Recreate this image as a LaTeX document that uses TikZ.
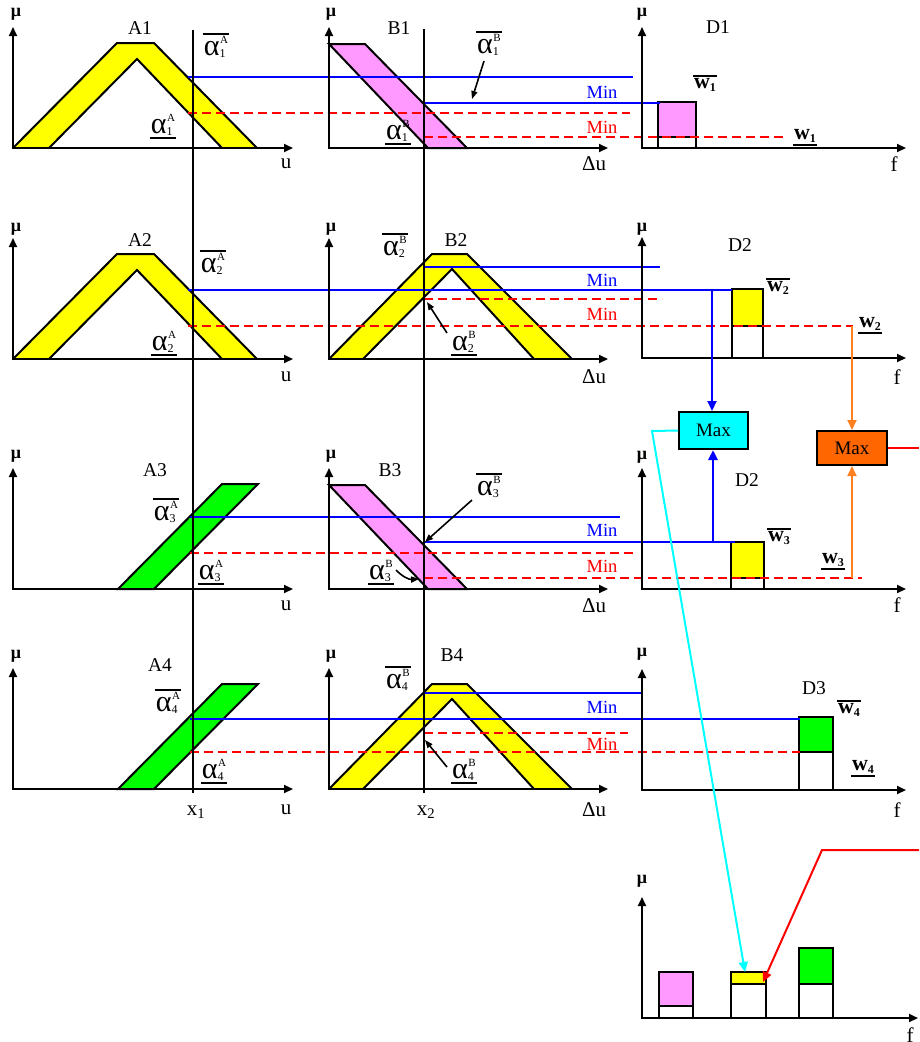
\documentclass[tikz,border=0pt]{standalone}
\usepackage{fontspec}
\setmainfont{Liberation Serif}
\usetikzlibrary{arrows.meta}

\definecolor{memyellow}{RGB}{255,255,0}
\definecolor{mempink}{RGB}{255,153,255}
\definecolor{memgreen}{RGB}{0,255,0}
\definecolor{maxcyan}{RGB}{0,255,255}
\definecolor{maxorange}{RGB}{255,102,0}
\definecolor{linkorange}{RGB}{255,128,32}
\definecolor{cutblue}{RGB}{0,0,255}
\definecolor{cutred}{RGB}{255,0,0}

% alpha-cut and weight symbols: index below, set letter above
\newcommand\alphasym[2]{{\fontsize{30}{30}\selectfont α}\rlap{\raisebox{-2pt}{\fontsize{12}{12}\selectfont #1}}\raisebox{12pt}{\hspace{0.5pt}\fontsize{11}{11}\selectfont #2}}
\newcommand\wsym[1]{w\raisebox{-3pt}{\fontsize{12}{12}\selectfont\bfseries #1}}

\tikzset{
  olin/.style={draw=black, line width=2pt, line join=miter},
  axisl/.style={draw=black, line width=2pt, {Triangle[length=9pt,width=8pt]}-{Triangle[length=9pt,width=8pt]}},
  cursor/.style={draw=black, line width=1.6pt},
  minblue/.style={draw=cutblue, line width=2pt},
  minred/.style={draw=cutred, line width=2pt, dash pattern=on 9pt off 5pt},
  tag/.style={inner sep=0pt, font=\fontsize{19.5}{19.5}\selectfont},
  axlab/.style={inner sep=0pt, font=\fontsize{21}{21}\selectfont},
  mulab/.style={inner sep=0pt, font=\fontsize{18}{18}\selectfont\bfseries},
  alab/.style={inner xsep=1pt, inner ysep=2.5pt},
  wlab/.style={inner xsep=1pt, inner ysep=2.5pt, font=\fontsize{22}{22}\selectfont\bfseries},
  bar/.style={draw=black, line width=1.8pt},
  mintag/.style={inner sep=0pt, font=\fontsize{18.5}{18.5}\selectfont},
  pointer/.style={draw=black, line width=1.6pt, -{Triangle[length=8pt,width=6pt]}},
  maxbox/.style={draw=black, line width=2pt, inner sep=0pt, font=\fontsize{19}{19}\selectfont},
  linkarrow/.style={line width=2pt, -{Triangle[length=10pt,width=9pt]}},
}

% axes: origin x, origin y, end of the horizontal axis
\newcommand\fzaxes[3]{\draw[axisl] (#1,#2-121) -- (#1,#2) -- (#3,#2);}
% trapezoidal interval set on u (yellow band)
\newcommand\trapA[1]{%
  \fill[memyellow] (13,#1) -- (117,#1-105) -- (154,#1-105) -- (257,#1) -- cycle;
  \fill[white] (49,#1) -- (137,#1-89) -- (222,#1) -- cycle;
  \draw[olin] (13,#1) -- (117,#1-105) -- (154,#1-105) -- (257,#1);
  \draw[olin] (49,#1) -- (137,#1-89) -- (222,#1);}
% rising band on u (green)
\newcommand\rampA[1]{%
  \filldraw[olin, fill=memgreen] (118,#1) -- (222,#1-105) -- (258,#1-105) -- (154,#1) -- cycle;}
% falling band on delta u (pink)
\newcommand\slopeB[1]{%
  \filldraw[olin, fill=mempink] (329,#1-104) -- (365,#1-104) -- (467,#1) -- (428,#1) -- cycle;}
% trapezoidal interval set on delta u (yellow band)
\newcommand\trapB[1]{%
  \fill[memyellow] (329,#1) -- (432,#1-105) -- (467,#1-105) -- (572,#1) -- cycle;
  \fill[white] (363,#1) -- (452,#1-90) -- (534,#1) -- cycle;
  \draw[olin] (329,#1) -- (432,#1-105) -- (467,#1-105) -- (572,#1);
  \draw[olin] (363,#1) -- (452,#1-90) -- (534,#1);}
% output bar: x1, top, x2, split, bottom, colour
\newcommand\fzbar[6]{%
  \fill[#6] (#1,#2) rectangle (#3,#4);
  \draw[olin] (#1,#2) rectangle (#3,#5);
  \draw[olin] (#1,#4) -- (#3,#4);}

\begin{document}
\begin{tikzpicture}[x=1pt,y=-1pt]
\useasboundingbox (0,0) rectangle (919,1042);

% ---- membership functions ----
\trapA{148}
\slopeB{148}
\trapA{359}
\trapB{359}
\rampA{589}
\slopeB{589}
\rampA{789}
\trapB{789}

% ---- output bars ----
\fzbar{658}{102}{696}{137}{148}{mempink}
\fzbar{732}{289}{763}{326}{358}{memyellow}
\fzbar{731}{542}{764}{578}{589}{memyellow}
\fzbar{799}{717}{833}{752}{790}{memgreen}
\fzbar{659}{972}{693}{1006}{1018}{mempink}
\fzbar{731}{972}{766}{984}{1018}{memyellow}
\fzbar{799}{948}{833}{984}{1018}{memgreen}

% ---- cut levels ----
\draw[minblue] (188,77) -- (633,77);
\draw[minblue] (424,103) -- (660,103);
\draw[minred] (188,113) -- (630,113);
\draw[minred] (424,137) -- (787,137);

\draw[minblue] (188,290) -- (732,290);
\draw[minblue] (424,267) -- (660,267);
\draw[minred] (188,326) -- (853,326);
\draw[minred] (424,299) -- (662,299);

\draw[minblue] (190,517) -- (620,517);
\draw[minblue] (424,542) -- (735,542);
\draw[minred] (190,553) -- (635,553);
\draw[minred] (424,578) -- (862,578);

\draw[minblue] (190,719) -- (800,719);
\draw[minblue] (424,693) -- (642,693);
\draw[minred] (190,752) -- (800,752);
\draw[minred] (424,733) -- (628,733);

% ---- crisp inputs ----
\draw[cursor] (193,30) -- (193,793);
\draw[cursor] (424,29) -- (424,793);

% ---- axes ----
\fzaxes{13}{148}{293}
\fzaxes{329}{148}{608}
\fzaxes{642}{148}{906}
\fzaxes{13}{359}{293}
\fzaxes{329}{359}{608}
\fzaxes{642}{358}{906}
\fzaxes{13}{589}{293}
\fzaxes{329}{589}{608}
\fzaxes{642}{589}{906}
\fzaxes{13}{789}{293}
\fzaxes{329}{789}{608}
\fzaxes{642}{790}{906}
\fzaxes{642}{1018}{918}

% ---- axis names ----
\foreach \y/\n in {14/1,229/2,456/3,656/4}{
  \node[mulab] (muA\n) at (16,\y) {μ};
  \node[mulab] (muB\n) at (331,\y) {μ};
}
\node[mulab] (muD1) at (642,14) {μ};
\node[mulab] (muD2) at (642,229) {μ};
\node[mulab] (muD3) at (642,457) {μ};
\node[mulab] (muD4) at (642,654) {μ};
\node[mulab] (muOut) at (642,881) {μ};
\foreach \y/\n in {164/1,377/2,606/3,810/4}{
  \node[axlab] (uA\n) at (286,\y) {u};
  \node[axlab] (uB\n) at (594,\y) {Δu};
}
\node[axlab] (fD1) at (894,164) {f};
\node[axlab] (fD2) at (897,377) {f};
\node[axlab] (fD3) at (897,605) {f};
\node[axlab] (fD4) at (897,810) {f};
\node[axlab, anchor=north] (fOut) at (910,1028) {f};
\node[axlab] (xone) at (196,812) {x\textsubscript{1}};
\node[axlab] (xtwo) at (426,812) {x\textsubscript{2}};

% ---- set names ----
\node[tag] (tA1) at (140,28) {A1};
\node[tag] (tB1) at (399,28) {B1};
\node[tag] (tD1) at (718,27) {D1};
\node[tag] (tA2) at (140,240) {A2};
\node[tag] (tB2) at (456,240) {B2};
\node[tag] (tD2) at (740,245) {D2};
\node[tag] (tA3) at (155,470) {A3};
\node[tag] (tB3) at (390,470) {B3};
\node[tag] (tD3) at (747,480) {D2};
\node[tag] (tA4) at (160,665) {A4};
\node[tag] (tB4) at (452,655) {B4};
\node[tag] (tD4) at (814,688) {D3};

% ---- Min tags ----
\foreach \yb/\yr/\n in {92/127/1,280/314/2,530/566/3,707/744/4}{
  \node[mintag, text=cutblue] (minb\n) at (602,\yb) {Min};
  \node[mintag, text=cutred] (minr\n) at (602,\yr) {Min};
}

% ---- alpha-cut labels ----
\node[alab] (aA1u) at (216,47) {\alphasym{1}{A}};
\node[alab] (aA1d) at (163,125) {\alphasym{1}{A}};
\node[alab] (aB1u) at (489,45) {\alphasym{1}{B}};
\node[alab] (aB1d) at (398,131) {\alphasym{1}{B}};
\node[alab] (aA2u) at (213,264) {\alphasym{2}{A}};
\node[alab] (aA2d) at (164,342) {\alphasym{2}{A}};
\node[alab] (aB2u) at (395,247) {\alphasym{2}{B}};
\node[alab] (aB2d) at (464,342) {\alphasym{2}{B}};
\node[alab] (aA3u) at (166,512) {\alphasym{3}{A}};
\node[alab] (aA3d) at (211,571) {\alphasym{3}{A}};
\node[alab] (aB3u) at (489,487) {\alphasym{3}{B}};
\node[alab] (aB3d) at (381,571) {\alphasym{3}{B}};
\node[alab] (aA4u) at (168,703) {\alphasym{4}{A}};
\node[alab] (aA4d) at (214,770) {\alphasym{4}{A}};
\node[alab] (aB4u) at (398,680) {\alphasym{4}{B}};
\node[alab] (aB4d) at (464,770) {\alphasym{4}{B}};

% ---- weight labels ----
\node[wlab] (w1u) at (705,85) {\wsym{1}};
\node[wlab] (w1d) at (805,136) {\wsym{1}};
\node[wlab] (w2u) at (778,288) {\wsym{2}};
\node[wlab] (w2d) at (870,324) {\wsym{2}};
\node[wlab] (w3u) at (779,538) {\wsym{3}};
\node[wlab] (w3d) at (833,560) {\wsym{3}};
\node[wlab] (w4u) at (849,710) {\wsym{4}};
\node[wlab] (w4d) at (863,767) {\wsym{4}};

% upper bounds carry a bar above, lower bounds a bar below
\foreach \n in {aA1u,aB1u,aA2u,aB2u,aA3u,aB3u,aA4u,aB4u,w1u,w2u,w3u,w4u}
  \draw[bar] (\n.north west) -- (\n.north east);
\foreach \n in {aA1d,aB1d,aA2d,aB2d,aA3d,aB3d,aA4d,aB4d,w1d,w2d,w3d,w4d}
  \draw[bar] (\n.south west) -- (\n.south east);

% ---- pointers to the cut points ----
\coordinate (p1) at (472,99);
\coordinate (p2) at (427,302);
\coordinate (p3) at (425,542);
\coordinate (p3b) at (419,579);
\coordinate (p4) at (425,740);
\draw[pointer] (484,61) -- (p1);
\draw[pointer] (447,333) -- (p2);
\draw[pointer] (472,500) -- (p3);
\draw[pointer] (396,570) to[bend right=25] (p3b);
\draw[pointer] (447,767) -- (p4);

% ---- aggregation ----
\node[maxbox, fill=maxcyan, minimum width=69pt, minimum height=37pt] (maxc) at (713.5,430.5) {Max};
\node[maxbox, fill=maxorange, minimum width=70pt, minimum height=34pt] (maxo) at (852,448) {Max};

\coordinate (upTap) at (712,290);
\coordinate (lowTap) at (713,542);
\draw[linkarrow, draw=cutblue] (upTap) -- (upTap |- maxc.north);
\draw[linkarrow, draw=cutblue, line width=2.6pt] (lowTap) -- (lowTap |- maxc.south);

\coordinate (upW) at (852,326);
\coordinate (lowW) at (852,578);
\draw[linkarrow, draw=linkorange] (upW) -- (maxo.north);
\draw[linkarrow, draw=linkorange] (lowW) -- (maxo.south);

\coordinate (redOut) at (919,448);
\draw[cutred, line width=2pt] (maxo.east) -- (redOut);

\coordinate (redIn) at (919,850);
\coordinate (redBend) at (822,850);
\coordinate (barTwoCorner) at (763,982);
\draw[linkarrow, draw=cutred] (redIn) -- (redBend) -- (barTwoCorner);

\coordinate (cyBend) at (652,431);
\coordinate (barTwoTop) at (745,972);
\draw[linkarrow, draw=maxcyan] (maxc.west) -- (cyBend) -- (barTwoTop);

\end{tikzpicture}
\end{document}
